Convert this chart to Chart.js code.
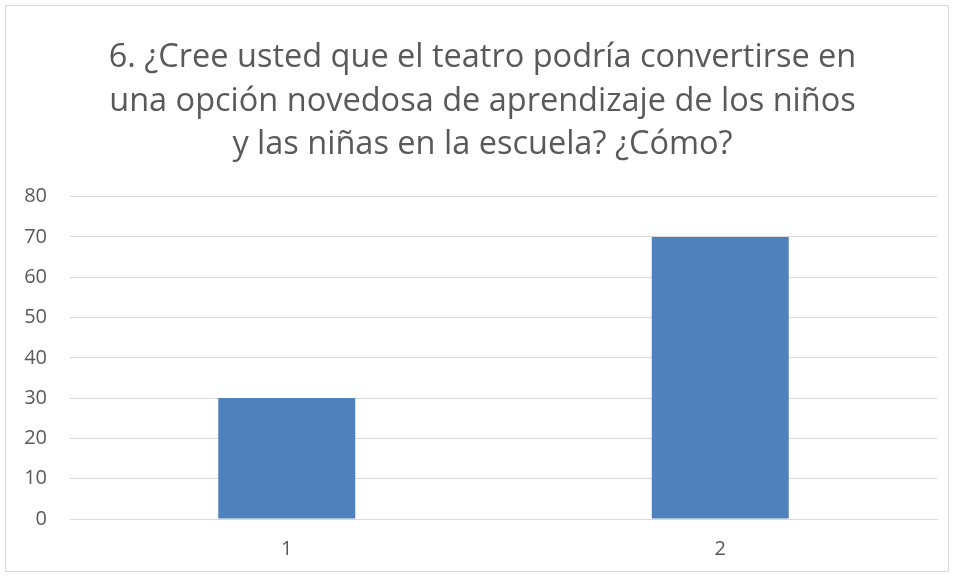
<!DOCTYPE html>
<html><head><meta charset="utf-8">
<script src="https://cdn.jsdelivr.net/npm/chart.js@4/dist/chart.umd.min.js"></script>
<style>
html,body{margin:0;padding:0;background:#fff;}
#wrap{position:absolute;left:5px;top:5px;width:942px;height:565px;border:1px solid #d9d9d9;}
canvas{display:block;}
</style></head>
<body>
<div id="wrap"><canvas id="c" width="942" height="565"></canvas></div>
<script>
const categories = ["1", "2"];
const values = [30, 70];
const titleLines = [
  "6. ¿Cree usted que el teatro podría convertirse en",
  "una opción novedosa de aprendizaje de los niños",
  "y las niñas en la escuela? ¿Cómo?"
];
const yMin = 0, yMax = 80, yStep = 10;

const shiftTitle = {
  id: 'shiftTitle',
  afterLayout(chart) {
    const t = chart.titleBlock;
    if (t) { t.left += 11; t.right += 11; }
  }
};

new Chart(document.getElementById('c'), {
  type: 'bar',
  data: {
    labels: categories,
    datasets: [{
      data: values,
      backgroundColor: '#4f81bd',
      borderWidth: 0,
      categoryPercentage: 1,
      barPercentage: 0.316
    }]
  },
  plugins: [shiftTitle],
  options: {
    responsive: false,
    animation: false,
    layout: { padding: { left: 0, right: 11, top: 30, bottom: 10 } },
    plugins: {
      legend: { display: false },
      tooltip: { enabled: false },
      title: {
        display: true,
        text: titleLines,
        color: '#595959',
        font: { family: 'Open Sans', size: 32.5, weight: 'normal', lineHeight: 1.34 },
        padding: { top: 0, bottom: 30 }
      }
    },
    scales: {
      x: {
        grid: { display: false, drawTicks: false },
        border: { display: true, color: '#d9d9d9', width: 1 },
        ticks: { color: '#595959', font: { family: 'Open Sans', size: 20 }, padding: 18 },
        afterFit: s => { s.height = 42; }
      },
      y: {
        min: yMin, max: yMax,
        grid: { color: '#d9d9d9', lineWidth: 1, drawTicks: false },
        border: { display: false },
        ticks: { stepSize: yStep, color: '#595959', font: { family: 'Open Sans', size: 20 }, padding: 23 },
        afterFit: s => { s.width = 64; }
      }
    }
  }
});
</script>
</body></html>
